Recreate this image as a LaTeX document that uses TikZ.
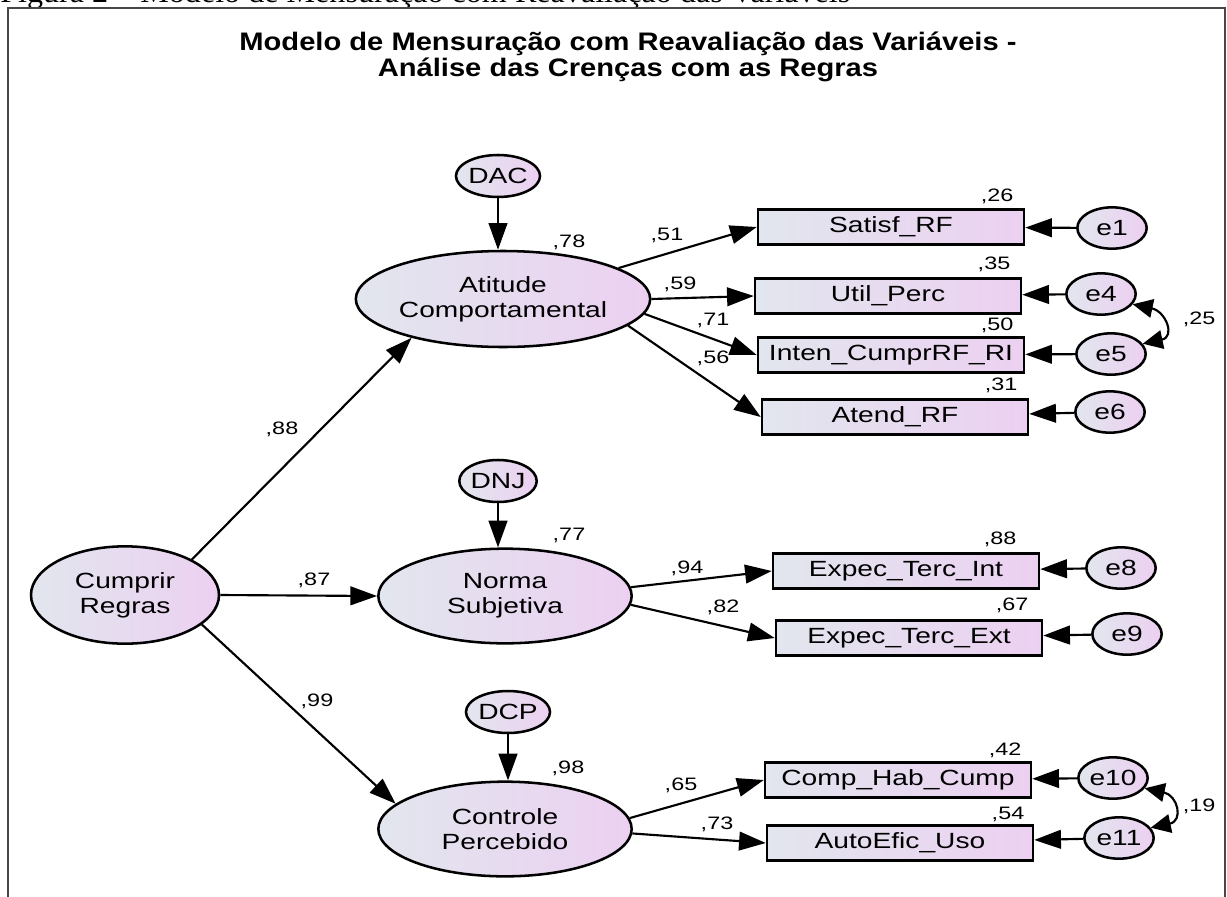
\documentclass[tikz,border=0pt]{standalone}
\usepackage{graphicx}
\usepackage{fontspec}
\setmainfont{Liberation Sans}
\newfontfamily\labfont[FakeStretch=1.28]{Liberation Sans}
\newfontfamily\numfont[FakeStretch=1.3]{Liberation Sans}
\newfontfamily\ttlfont[FakeStretch=1.15]{Liberation Sans}
\newfontfamily\capfont{Liberation Serif}
\usetikzlibrary{shapes.geometric, arrows.meta}

\definecolor{shL}{RGB}{226,230,238}
\definecolor{shR}{RGB}{236,208,241}
\definecolor{frm}{RGB}{70,70,70}

\tikzset{
  nodetext/.style={font=\labfont\fontsize{16.5pt}{19pt}\selectfont, text=black},
  lat/.style={ellipse, draw, line width=1.9pt, left color=shL, right color=shR,
    inner sep=0pt, align=center, nodetext},
  obs/.style={rectangle, draw, line width=1.9pt, left color=shL, right color=shR,
    minimum width=199.5pt, minimum height=26pt, inner sep=0pt, nodetext},
  err/.style={ellipse, draw, line width=1.9pt, left color=shL, right color=shR,
    minimum width=52pt, minimum height=31pt, inner sep=0pt, nodetext},
  dist/.style={ellipse, draw, line width=1.9pt, left color=shL, right color=shR,
    minimum width=52.5pt, minimum height=31.5pt, inner sep=0pt, nodetext},
  num/.style={font=\numfont\fontsize{13.5pt}{15pt}\selectfont, inner sep=0pt, anchor=base},
  pth/.style={line width=1.6pt, -{Triangle[length=20pt,width=14pt]}},
  cov/.style={line width=1.6pt, {Triangle[length=15pt,width=14pt]}-{Triangle[length=15pt,width=14pt]}},
}

\begin{document}
\begin{tikzpicture}[x=0.75pt, y=-0.75pt]
\useasboundingbox (0,0) rectangle (1227,896);
\clip (0,0) rectangle (1227,896);
\fill[white] (0,0) rectangle (1227,896);

% cut caption
\node[anchor=base west, inner sep=0pt] (cap) at (0,2)
  {\resizebox{637.5pt}{16pt}{\capfont Figura 2 – Modelo de Mensuração com Reavaliação das Variáveis}};

% frame
\draw[frm, line width=1.6pt] (8,920) -- (8,8) -- (1225,8) -- (1225,920);

% title
\node[anchor=base, inner sep=0pt, font=\ttlfont\bfseries\fontsize{19pt}{20pt}\selectfont] (title1) at (628,50)
  {Modelo de Mensuração com Reavaliação das Variáveis -};
\node[anchor=base, inner sep=0pt, font=\ttlfont\bfseries\fontsize{19pt}{20pt}\selectfont] (title2) at (628,76)
  {Análise das Crenças com as Regras};

% latent variables
\node[lat, minimum width=141pt, minimum height=73pt] (cr) at (125,595) {Cumprir\\Regras};
\node[lat, minimum width=186pt, minimum height=72pt] (at) at (503,299) {Atitude\\Comportamental};
\node[lat, minimum width=190pt, minimum height=71pt] (ns) at (505,596) {Norma\\Subjetiva};
\node[lat, minimum width=190pt, minimum height=71pt] (cp) at (505,829) {Controle\\Percebido};

% disturbances
\node[dist] (dac) at (498,176) {DAC};
\node[dist] (dnj) at (498,481) {DNJ};
\node[dist] (dcp) at (508,712) {DCP};

% observed
\node[obs] (b1) at (891,227) {Satisf\_RF};
\node[obs] (b2) at (888,296) {Util\_Perc};
\node[obs] (b3) at (891,355) {Inten\_CumprRF\_RI};
\node[obs] (b4) at (895,417) {Atend\_RF};
\node[obs] (b5) at (906,571) {Expec\_Terc\_Int};
\node[obs] (b6) at (909,638) {Expec\_Terc\_Ext};
\node[obs] (b7) at (898,780) {Comp\_Hab\_Cump};
\node[obs] (b8) at (900,843) {AutoEfic\_Uso};

% errors
\node[err] (e1) at (1112,228) {e1};
\node[err] (e4) at (1101,294) {e4};
\node[err] (e5) at (1111,354) {e5};
\node[err] (e6) at (1110,412) {e6};
\node[err] (e8) at (1121,568) {e8};
\node[err] (e9) at (1127,634) {e9};
\node[err] (e10) at (1113,778) {e10};
\node[err] (e11) at (1119,838) {e11};

% structural paths
\draw[pth] (cr.28) -- (at.203);
\draw[pth] (cr.east) -- (ns.west);
\draw[pth] (cr.-21) -- (cp.167);
\draw[pth] (dac) -- (dac |- at.north);
\draw[pth] (dnj) -- (dnj |- ns.north);
\draw[pth] (dcp) -- (dcp |- cp.north);

% loadings
\draw[pth] (at.15) -- (b1.west);
\draw[pth] (at.0) -- (b2.west);
\draw[pth] (at.-6) -- (b3.west);
\draw[pth] (at.-12) -- (b4.west);
\draw[pth] (ns.4) -- (b5.west);
\draw[pth] (ns.-4) -- (b6.west);
\draw[pth] (cp.5) -- (b7.west);
\draw[pth] (cp.-2) -- (b8.west);

% error paths
\draw[pth] (e1) -- (b1);
\draw[pth] (e4) -- (b2);
\draw[pth] (e5) -- (b3);
\draw[pth] (e6) -- (b4);
\draw[pth] (e8) -- (b5);
\draw[pth] (e9) -- (b6);
\draw[pth] (e10) -- (b7);
\draw[pth] (e11) -- (b8);

% covariances
\draw[cov] (e4.-18) .. controls +(33,7) and +(33,-7) .. (e5.18);
\draw[cov] (e10.-18) .. controls +(33,7) and +(33,-7) .. (e11.18);

% numbers
\node[num] (n78) at (569,247) {,78};
\node[num] (n77) at (569,540) {,77};
\node[num] (n98) at (568,773) {,98};
\node[num] (n88a) at (282,434) {,88};
\node[num] (n87) at (314,585) {,87};
\node[num] (n99) at (317,706) {,99};
\node[num] (n51) at (667,240) {,51};
\node[num] (n59) at (680,289) {,59};
\node[num] (n71) at (713,325) {,71};
\node[num] (n56) at (713,363) {,56};
\node[num] (n26) at (997,201) {,26};
\node[num] (n35) at (994,269) {,35};
\node[num] (n50) at (997,330) {,50};
\node[num] (n31) at (1001,390) {,31};
\node[num] (n94) at (687,573) {,94};
\node[num] (n82) at (723,612) {,82};
\node[num] (n88b) at (1000,544) {,88};
\node[num] (n67) at (1012,610) {,67};
\node[num] (n65) at (681,790) {,65};
\node[num] (n73) at (717,829) {,73};
\node[num] (n42) at (1005,755) {,42};
\node[num] (n54) at (1008,819) {,54};
\node[num] (n25) at (1199,324) {,25};
\node[num] (n19) at (1199,811) {,19};
\end{tikzpicture}
\end{document}
